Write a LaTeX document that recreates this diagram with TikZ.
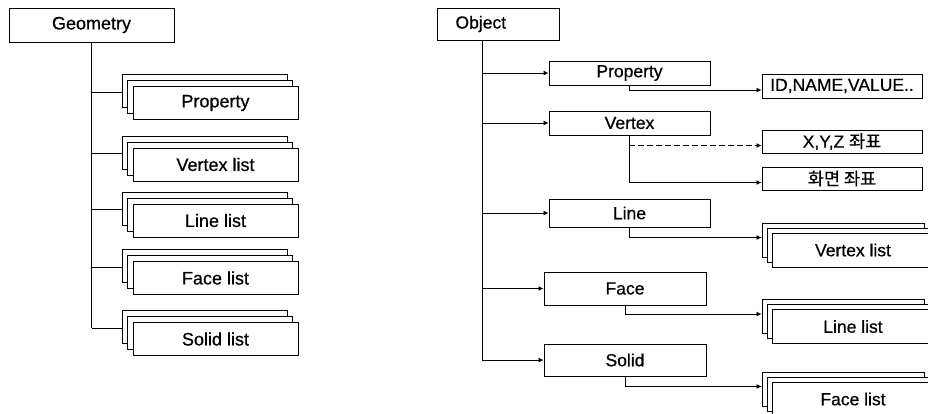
\documentclass[tikz,border=0pt]{standalone}
\usepackage{fontspec}
\setmainfont[FakeBold=0.6]{Liberation Sans}
\newfontfamily\kor[FakeBold=0.6]{Noto Sans CJK KR}
\usetikzlibrary{arrows.meta,shadows}

\begin{document}
\begin{tikzpicture}[x=1pt,y=-1pt,
  box/.style={draw,fill=white,line width=1pt,inner sep=0pt,font=\fontsize{17.5}{20}\selectfont},
  lstack/.style={box,minimum width=165pt,minimum height=33pt,font=\fontsize{18}{20}\selectfont,
    copy shadow={shadow xshift=-11pt,shadow yshift=12pt},
    copy shadow={shadow xshift=-5.5pt,shadow yshift=6pt}},
  rstack/.style={box,minimum width=162pt,minimum height=34pt,
    copy shadow={shadow xshift=-10pt,shadow yshift=10pt},
    copy shadow={shadow xshift=-5pt,shadow yshift=5pt}},
  link/.style={line width=0.8pt},
  arr/.style={link,-{Latex[length=5pt,width=5pt]}}]
\useasboundingbox (0,0) rectangle (928,413);

% geometry side
\node[box,minimum width=165pt,minimum height=34pt,font=\fontsize{18}{20}\selectfont] (geo) at (91.5,25) {Geometry};
\node[lstack] (gp) at (215.5,103) {Property};
\node[lstack] (gv) at (215.5,164.5) {Vertex list};
\node[lstack] (gl) at (215.5,220.5) {Line list};
\node[lstack] (gf) at (215.5,278) {Face list};
\node[lstack] (gs) at (215.5,339) {Solid list};

\foreach \n in {gp,gv,gl,gf,gs}
  \coordinate (\n-in) at ([xshift=-11pt,yshift=-6pt]\n.north west);

\draw[link] (geo.south) -- (geo.south |- gs-in);
\foreach \n in {gp,gv,gl,gf,gs}
  \draw[link] (geo.south |- \n-in) -- (\n-in);

% object side
\node[box,minimum height=32pt,text width=86pt,inner xsep=18pt,align=left,anchor=west] (obj) at (437,24) {Object};
\node[box,minimum width=161pt,minimum height=24pt] (oprop) at (629.5,73) {Property};
\node[box,minimum width=161pt,minimum height=24pt] (overt) at (629.5,123) {Vertex};
\node[box,minimum width=161pt,minimum height=28pt] (oline) at (629.5,213) {Line};
\node[box,minimum width=162pt,minimum height=33pt] (oface) at (625,288.5) {Face};
\node[box,minimum width=162pt,minimum height=32pt] (osol) at (625,360) {Solid};

\node[box,minimum width=160pt,minimum height=24pt] (oid) at (842,86) {ID,NAME,VALUE..};
\node[box,minimum width=160pt,minimum height=23pt] (oxyz) at (842,141.5) {X,Y,Z {\kor 좌표}};
\node[box,minimum width=160pt,minimum height=23pt] (oscr) at (842,178.5) {{\kor 화면 좌표}};

\node[rstack] (ovl) at (853,250) {Vertex list};
\node[rstack] (oll) at (853,326.5) {Line list};
\node[rstack] (ofl) at (853,399) {Face list};

\coordinate (trk) at ([xshift=45pt]obj.south west);
\draw[link] (trk) -- (trk |- osol.west);
\foreach \n in {oprop,overt,oline,oface,osol}
  \draw[arr] (trk |- \n.west) -- (\n.west);

\draw[arr] (oprop.south) |- ([yshift=-4pt]oid.west);
\draw[arr,dash pattern=on 6pt off 3pt] (overt.south) |- ([yshift=-4pt]oxyz.west);
\draw[arr] (overt.south) |- ([yshift=-4pt]oscr.west);
\foreach \a/\b in {oline/ovl,oface/oll,osol/ofl}
  \draw[arr] (\a.south) |- ([xshift=-10pt,yshift=-5pt]\b.north west);
\end{tikzpicture}
\end{document}
